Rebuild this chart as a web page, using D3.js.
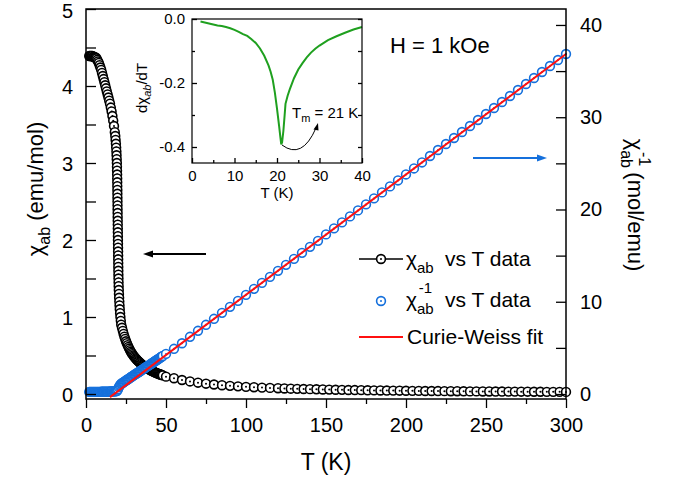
<!DOCTYPE html>
<html><head><meta charset="utf-8">
<script src="https://cdn.jsdelivr.net/npm/d3@7"></script>
<style>body{margin:0;background:#fff} text{font-family:"Liberation Sans",Arial,sans-serif}</style>
</head><body><svg id="c" width="686" height="478"></svg>
<script>
// ---------- DATA ----------
// chi_ab vs T (emu/mol)
const chiT = [2,2.5,3,3.5,4,4.5,5,5.5,6,6.5,7,7.5,8,8.5,9,9.5,10,10.5,11,11.5,12,12.5,13,13.5,14,14.5,15,15.5,16,16.5,17,17.5,18,
  18.3,18.5,18.7,18.85,19.0,19.1,19.2,19.3,19.35,19.4,19.45,19.5,19.53,19.56,19.6,19.62,19.65,19.68,19.7,19.73,19.76,19.79,19.82,19.85,19.88,19.91,19.94,19.97,
  20.0,20.03,20.06,20.09,20.12,20.15,20.18,20.21,20.25,20.3,20.35,20.42,20.5,20.6,20.7,20.82,20.95,21.1,21.3,21.5,21.75,
  22,22.5,23,23.5,24,24.5,25,25.5,26,26.5,27,27.5,28,28.5,29,29.5,30,30.5,31,31.5,32,32.5,33,33.5,34,34.5,35,35.5,36,36.5,37,37.5,38,38.5,39,39.5,40,40.5,41,41.5,42,42.5,43,43.5,44,44.5,45,45.5,46,46.5,47,47.5,48,
  50,55,60,65,70,75,80,85,90,95,100,105,110,115,120,
  124,128,132,136,140,144,148,152,156,160,164,168,172,176,180,184,188,192,196,200,204,208,212,216,220,224,228,232,236,240,244,248,252,256,260,264,268,272,276,280,284,288,292,296,300];
const chiVal = [4.39,4.39,4.39,4.39,4.39,4.38,4.38,4.37,4.37,4.36,4.34,4.32,4.30,4.27,4.24,4.21,4.17,4.13,4.09,4.05,4.01,3.97,3.93,3.89,3.85,3.81,3.77,3.72,3.67,3.61,3.55,3.48,3.40,
  3.35,3.30,3.25,3.20,3.15,3.10,3.05,3.00,2.95,2.90,2.85,2.80,2.75,2.70,2.65,2.60,2.55,2.50,2.45,2.40,2.35,2.30,2.25,2.20,2.15,2.10,2.05,2.00,
  1.95,1.90,1.85,1.80,1.75,1.70,1.65,1.60,1.55,1.50,1.45,1.40,1.35,1.30,1.25,1.20,1.15,1.10,1.05,1.00,0.95,
  0.90,0.86,0.82,0.78,0.745,0.715,0.685,0.66,0.635,0.612,0.59,0.57,0.55,0.533,0.517,0.502,0.488,0.475,0.463,0.451,0.44,0.43,0.42,0.41,0.40,0.391,0.382,0.374,0.366,0.358,0.351,0.344,0.337,0.331,0.325,0.319,0.313,0.307,0.302,0.297,0.292,0.287,0.282,0.278,0.273,0.269,0.265,0.261,0.257,0.253,0.249,0.246,0.242,
  0.225,0.205,0.182,0.163,0.147,0.134,0.123,0.114,0.106,0.099,0.093,0.088,0.083,0.079,0.075,
  0.072,0.069,0.067,0.065,0.063,0.061,0.059,0.057,0.055,0.054,0.052,0.051,0.050,0.048,0.047,0.046,0.045,0.044,0.043,0.042,0.041,0.040,0.039,0.039,0.038,0.037,0.036,0.036,0.035,0.034,0.034,0.033,0.033,0.032,0.032,0.031,0.031,0.030,0.030,0.029,0.029,0.028,0.028,0.028,0.027];

// chi_ab^-1 vs T (mol/emu)
const invT = [2,2.5,3,3.5,4,4.5,5,5.5,6,6.5,7,7.5,8,8.5,9,9.5,10,10.5,11,11.5,12,12.5,13,13.5,14,14.5,15,15.5,16,16.5,17,17.5,18,18.5,19,19.5,20,20.5,21,21.5,
  22,22.5,23,23.5,24,24.5,25,25.5,26,26.5,27,27.5,28,28.5,29,29.5,30,30.5,31,31.5,32,32.5,33,33.5,34,34.5,35,35.5,36,36.5,37,37.5,38,38.5,39,39.5,40,40.5,41,41.5,42,42.5,43,43.5,44,44.5,45,45.5,46,46.5,47,47.5,48,
  50,55,60,65,70,75,80,85,90,95,100,105,110,115,120,125,130,135,140,145,150,155,160,165,170,175,180,185,190,195,200,205,210,215,220,225,230,235,240,245,250,255,260,265,270,275,280,285,290,295,300];
const invVal = [0.228,0.228,0.228,0.228,0.228,0.228,0.228,0.229,0.229,0.229,0.230,0.231,0.233,0.234,0.236,0.238,0.240,0.242,0.244,0.247,0.249,0.252,0.254,0.257,0.260,0.262,0.265,0.269,0.272,0.277,0.282,0.287,0.294,0.303,0.317,0.357,0.513,0.741,0.89,1.00,
  1.11,1.16,1.22,1.28,1.34,1.40,1.46,1.52,1.57,1.63,1.69,1.75,1.82,1.88,1.93,1.99,2.05,2.11,2.16,2.22,2.27,2.33,2.38,2.44,2.50,2.56,2.62,2.67,2.73,2.79,2.85,2.91,2.97,3.02,3.08,3.13,3.19,3.26,3.31,3.37,3.42,3.48,3.55,3.60,3.66,3.72,3.77,3.83,3.89,3.95,4.02,4.07,4.13,
  4.35,4.9,5.5,6.2,6.85,7.5,8.15,8.8,9.45,10.1,10.75,11.4,12.05,12.7,13.35,14.0,14.65,15.3,15.95,16.6,17.3,17.95,18.6,19.25,19.9,20.55,21.2,21.85,22.5,23.15,23.8,24.45,25.1,25.8,26.45,27.1,27.75,28.4,29.05,29.7,30.35,31.0,31.65,32.3,32.95,33.6,34.25,34.9,35.55,36.2,36.85];

// Curie-Weiss fit line (on inverse axis)
const fitT = [15, 300];
const fitInv = [-0.34, 36.85];

// Inset: d(chi_ab)/dT vs T
const insT = [2,3,4,5,6,7,8,9,10,11,12,13,14,15,16,17,18,18.5,19,19.5,20,20.5,20.8,21,21.2,21.5,21.8,22,22.5,23,24,25,26,27,28,29,30,32,34,36,38,40];
const insD = [-0.008,-0.011,-0.014,-0.017,-0.020,-0.022,-0.025,-0.029,-0.034,-0.040,-0.047,-0.053,-0.063,-0.075,-0.092,-0.115,-0.145,-0.165,-0.19,-0.23,-0.28,-0.335,-0.37,-0.392,-0.385,-0.35,-0.30,-0.265,-0.24,-0.22,-0.185,-0.158,-0.138,-0.12,-0.105,-0.093,-0.083,-0.066,-0.054,-0.043,-0.033,-0.025];

// Ticks
const xTicks = [0,50,100,150,200,250,300];
const xMinor = [25,75,125,175,225,275];
const yLTicks = [0,1,2,3,4,5];
const yLMinor = [0.5,1.5,2.5,3.5,4.5];
const yRTicks = [0,10,20,30,40];
const yRMinor = [5,15,25,35];
const insXTicks = [0,10,20,30,40];
const insXMinor = [5,15,25,35];
const insYTicks = [0,-0.2,-0.4];
const insYMinor = [-0.1,-0.3];

// ---------- DRAW ----------
const FONT = '"Liberation Sans",Arial,sans-serif';
const BLUE = '#1570dc', GREEN = '#1fa01f', RED = '#ff1010';
const R = 4.4, SW = 1.6;
const svg = d3.select('#c');
const M = {l:86, r:566, t:9, b:399};
const x = d3.scaleLinear().domain([0,300]).range([M.l,M.r]);
const yL = d3.scaleLinear().domain([-0.065,5]).range([M.b,M.t]);
const yR = d3.scaleLinear().domain([-0.54,41.73]).range([M.b,M.t]);

function styleAxis(g, fs){
  g.select('.domain').remove();
  g.selectAll('line').attr('stroke','#000').attr('stroke-width',1.3);
  g.selectAll('text').attr('font-size',fs).attr('fill','#000').attr('font-family',FONT);
}

const chiData = chiT.map((t,i)=>({t, v:chiVal[i]}));
const invData = invT.map((t,i)=>({t, v:invVal[i]}));

svg.append('path').datum(chiData)
  .attr('d', d3.line().x(d=>x(d.t)).y(d=>yL(d.v)))
  .attr('fill','none').attr('stroke','#000').attr('stroke-width',1);
const gc = svg.append('g').selectAll('g').data(chiData).join('g')
  .attr('transform', d=>`translate(${x(d.t)},${yL(d.v)})`);
gc.append('circle').attr('r',R).attr('fill','#fff').attr('stroke','#000').attr('stroke-width',SW);
gc.append('circle').attr('r',1).attr('fill','#000');

const gi = svg.append('g').selectAll('g').data(invData).join('g')
  .attr('transform', d=>`translate(${x(d.t)},${yR(d.v)})`);
gi.append('circle').attr('r',R).attr('fill','#fff').attr('stroke',BLUE).attr('stroke-width',SW);
gi.append('circle').attr('r',1).attr('fill',BLUE);

const fitData = fitT.map((t,i)=>({t, v:fitInv[i]}));
svg.append('path').datum(fitData)
  .attr('d', d3.line().x(d=>x(d.t)).y(d=>yR(d.v)))
  .attr('fill','none').attr('stroke',RED).attr('stroke-width',2);

// axes
svg.append('g').attr('transform',`translate(0,${M.b})`)
  .call(d3.axisBottom(x).tickValues(xTicks).tickSize(9).tickSizeOuter(0).tickPadding(10)).call(styleAxis,20);
svg.append('g').attr('transform',`translate(0,${M.b})`)
  .call(d3.axisBottom(x).tickValues(xMinor).tickSize(5).tickSizeOuter(0).tickFormat('')).call(styleAxis,20);
const la = svg.append('g').attr('transform',`translate(${M.l},0)`)
  .call(d3.axisLeft(yL).tickValues(yLTicks).tickSize(-10).tickSizeOuter(0).tickPadding(13).tickFormat(d3.format('d'))).call(styleAxis,20);
la.selectAll('text').attr('dy','0.4em');
svg.append('g').attr('transform',`translate(${M.l},0)`)
  .call(d3.axisLeft(yL).tickValues(yLMinor).tickSize(-10).tickSizeOuter(0).tickFormat('')).call(styleAxis,20);
svg.append('g').attr('transform',`translate(${M.r},0)`)
  .call(d3.axisRight(yR).tickValues(yRTicks).tickSize(-10).tickSizeOuter(0).tickPadding(14).tickFormat(d3.format('d'))).call(styleAxis,20);
svg.append('g').attr('transform',`translate(${M.r},0)`)
  .call(d3.axisRight(yR).tickValues(yRMinor).tickSize(-10).tickSizeOuter(0).tickFormat('')).call(styleAxis,20);
svg.append('rect').attr('x',M.l).attr('y',M.t).attr('width',M.r-M.l).attr('height',M.b-M.t)
  .attr('fill','none').attr('stroke','#000').attr('stroke-width',1.5);

// axis titles
svg.append('text').attr('x',326).attr('y',470).attr('text-anchor','middle').attr('font-size',23).text('T (K)');
const lt = svg.append('text').attr('transform','translate(43,189) rotate(-90)').attr('text-anchor','middle').attr('font-size',22);
lt.append('tspan').text('χ');
lt.append('tspan').attr('font-size',16).attr('dy',7).text('ab');
lt.append('tspan').attr('dy',-7).text(' (emu/mol)');
const rt = svg.append('text').attr('transform','translate(628,205) rotate(90)').attr('text-anchor','middle').attr('font-size',22);
rt.append('tspan').text('χ');
rt.append('tspan').attr('font-size',16).attr('dy',7).text('ab');
rt.append('tspan').attr('font-size',16).attr('dx',-16).attr('dy',-18).text('-1');
rt.append('tspan').attr('dy',11).text(' (mol/emu)');

// H label
svg.append('text').attr('x',390).attr('y',53).attr('font-size',22).text('H = 1 kOe');

// arrows
function arrow(x1,y1,x2,y2,color,w,hl,hw){
  const a = Math.atan2(y2-y1,x2-x1), c=Math.cos(a), s=Math.sin(a);
  const bx = x2-hl*c, by = y2-hl*s;
  svg.append('line').attr('x1',x1).attr('y1',y1).attr('x2',bx+1*c).attr('y2',by+1*s).attr('stroke',color).attr('stroke-width',w);
  svg.append('path').attr('d',`M${x2},${y2}L${bx-hw*s},${by+hw*c}L${bx+hw*s},${by-hw*c}Z`).attr('fill',color);
}
arrow(206,254,143,254,'#000',1.8,10,3.5);
arrow(473,158,547,158,BLUE,1.8,10,3.5);

// legend
svg.append('line').attr('x1',359).attr('x2',403).attr('y1',259).attr('y2',259).attr('stroke','#000').attr('stroke-width',1.4);
svg.append('circle').attr('cx',381).attr('cy',259).attr('r',R).attr('fill','#fff').attr('stroke','#000').attr('stroke-width',SW);
svg.append('circle').attr('cx',381).attr('cy',259).attr('r',1).attr('fill','#000');
const l1 = svg.append('text').attr('x',406).attr('y',266).attr('font-size',21);
l1.append('tspan').text('χ');
l1.append('tspan').attr('font-size',15).attr('dy',7).text('ab');
l1.append('tspan').attr('x',445).attr('dy',-7).text('vs T data');
svg.append('circle').attr('cx',381).attr('cy',301).attr('r',R).attr('fill','#fff').attr('stroke',BLUE).attr('stroke-width',SW);
svg.append('circle').attr('cx',381).attr('cy',301).attr('r',1).attr('fill',BLUE);
const l2 = svg.append('text').attr('x',406).attr('y',307).attr('font-size',21);
l2.append('tspan').text('χ');
l2.append('tspan').attr('font-size',15).attr('dy',7).text('ab');
l2.append('tspan').attr('font-size',15).attr('dx',-15).attr('dy',-21).text('-1');
l2.append('tspan').attr('x',445).attr('dy',14).text('vs T data');
svg.append('line').attr('x1',359).attr('x2',403).attr('y1',337).attr('y2',337).attr('stroke',RED).attr('stroke-width',2);
svg.append('text').attr('x',407).attr('y',344).attr('font-size',21).text('Curie-Weiss fit');

// ---------- INSET ----------
const I = {l:192, r:362, t:19, b:163};
const xi = d3.scaleLinear().domain([0,40]).range([I.l,I.r]);
const yi = d3.scaleLinear().domain([-0.45,0]).range([I.b,I.t]);
svg.append('rect').attr('x',I.l).attr('y',I.t).attr('width',I.r-I.l).attr('height',I.b-I.t).attr('fill','#fff');
const insData = insT.map((t,i)=>({t, v:insD[i]}));
svg.append('path').datum(insData)
  .attr('d', d3.line().x(d=>xi(d.t)).y(d=>yi(d.v)))
  .attr('fill','none').attr('stroke',GREEN).attr('stroke-width',2);
const fmtI = d => d3.format('.1f')(d).replace('−','-');
svg.append('g').attr('transform',`translate(0,${I.b})`)
  .call(d3.axisBottom(xi).tickValues(insXTicks).tickSize(-5).tickSizeOuter(0).tickPadding(7)).call(styleAxis,15);
svg.append('g').attr('transform',`translate(0,${I.b})`)
  .call(d3.axisBottom(xi).tickValues(insXMinor).tickSize(-3).tickSizeOuter(0).tickFormat('')).call(styleAxis,15);
svg.append('g').attr('transform',`translate(${I.l},0)`)
  .call(d3.axisLeft(yi).tickValues(insYTicks).tickSize(-5).tickSizeOuter(0).tickPadding(7).tickFormat(fmtI)).call(styleAxis,15);
svg.append('g').attr('transform',`translate(${I.l},0)`)
  .call(d3.axisLeft(yi).tickValues(insYMinor).tickSize(-3).tickSizeOuter(0).tickFormat('')).call(styleAxis,15);
svg.append('g').attr('transform',`translate(${I.r},0)`)
  .call(d3.axisRight(yi).tickValues(insYTicks.concat(insYMinor)).tickSize(-4).tickSizeOuter(0).tickFormat('')).call(styleAxis,15);
svg.append('rect').attr('x',I.l).attr('y',I.t).attr('width',I.r-I.l).attr('height',I.b-I.t)
  .attr('fill','none').attr('stroke','#000').attr('stroke-width',1.2);
svg.append('text').attr('x',277).attr('y',198).attr('text-anchor','middle').attr('font-size',15).text('T (K)');
const it = svg.append('text').attr('transform','translate(147,88) rotate(-90)').attr('text-anchor','middle').attr('font-size',15);
it.append('tspan').text('dχ');
it.append('tspan').attr('font-size',11).attr('font-style','italic').attr('dy',4).text('ab');
it.append('tspan').attr('dy',-4).text('/dT');
const tm = svg.append('text').attr('x',292).attr('y',118).attr('font-size',15);
tm.append('tspan').text('T');
tm.append('tspan').attr('font-size',11).attr('dy',4).text('m');
tm.append('tspan').attr('dy',-4).text(' = 21 K');
svg.append('path').attr('d','M282,145 Q302,160 316,128').attr('fill','none').attr('stroke','#000').attr('stroke-width',1);
svg.append('path').attr('d','M318,123 L313.5,129.5 L318.5,130.5 Z').attr('fill','#000');
</script></body></html>
